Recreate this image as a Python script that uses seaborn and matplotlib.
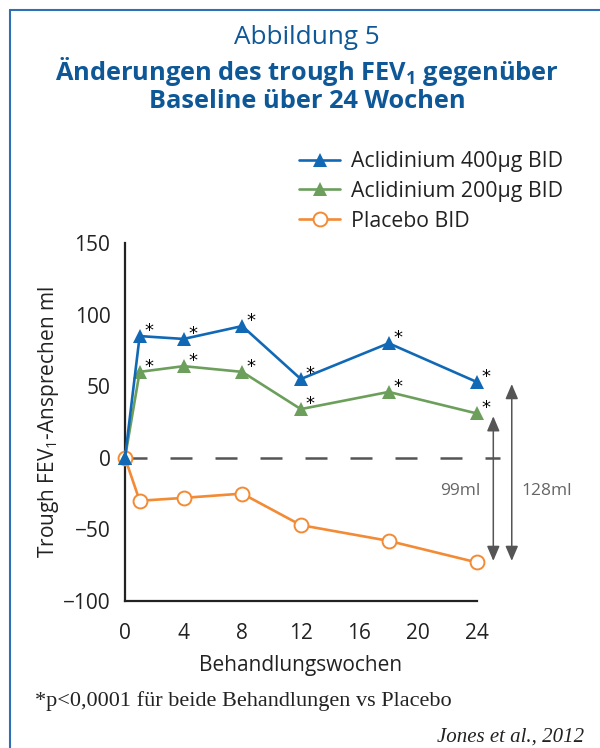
import numpy as np
import pandas as pd
import matplotlib
matplotlib.use("Agg")
import matplotlib.pyplot as plt
from matplotlib.lines import Line2D
import seaborn as sns

# ---------------- data ----------------
weeks = [0, 1, 4, 8, 12, 18, 24]
acl400 = [0, 85, 83, 92, 55, 80, 53]
acl200 = [0, 60, 64, 60, 34, 46, 31]
placebo = [0, -30, -28, -25, -47, -58, -73]
series_names = ["Aclidinium 400µg BID", "Aclidinium 200µg BID", "Placebo BID"]
star_weeks = [1, 4, 8, 12, 18, 24]
diff_labels = ["99ml", "128ml"]
xticks = [0, 4, 8, 12, 16, 20, 24]
yticks = [-100, -50, 0, 50, 100, 150]

c400 = "#1169b6"
c200 = "#6c9f5c"
cpl = "#f38a34"
title_c = "#0f5897"
grey = "#555555"
txt = "#222222"

sns.set_theme(style="white")
plt.rcParams["font.family"] = ["Open Sans", "DejaVu Sans"]
plt.rcParams["mathtext.fontset"] = "custom"
plt.rcParams["mathtext.rm"] = "Open Sans"
plt.rcParams["mathtext.bf"] = "Open Sans:bold"

W, H = 600, 748
fig = plt.figure(figsize=(6.0, 7.48), dpi=100)

# axes geometry (pixels)
x0_px, px_per_week = 125, 14.65
xmax = 30
ax_left = x0_px / W
ax_w = xmax * px_per_week / W
ax_bottom = (H - 601) / H
ax_h = (601 - 243) / H
ax = fig.add_axes([ax_left, ax_bottom, ax_w, ax_h])

df = pd.DataFrame({
    "week": weeks * 3,
    "value": acl400 + acl200 + placebo,
    "group": [series_names[0]] * len(weeks) + [series_names[1]] * len(weeks) + [series_names[2]] * len(weeks),
})

# zero reference dashed line
ax.plot([0, 25.6], [0, 0], color=grey, lw=1.8, linestyle=(0, (8.8, 9.2)), zorder=1, clip_on=False)

sns.lineplot(data=df[df.group == series_names[2]], x="week", y="value", ax=ax,
             color=cpl, lw=1.9, marker="o", markersize=10, markerfacecolor="white",
             markeredgecolor=cpl, markeredgewidth=1.4, clip_on=False, zorder=3, legend=False)
sns.lineplot(data=df[df.group == series_names[1]], x="week", y="value", ax=ax,
             color=c200, lw=1.9, marker="^", markersize=10.5, markeredgewidth=0,
             clip_on=False, zorder=4, legend=False)
sns.lineplot(data=df[df.group == series_names[0]], x="week", y="value", ax=ax,
             color=c400, lw=1.9, marker="^", markersize=10.5, markeredgewidth=0,
             clip_on=False, zorder=5, legend=False)

# asterisks
for vals in (acl400, acl200):
    for w, v in zip(weeks, vals):
        if w in star_weeks:
            ax.annotate("*", (w, v), xytext=(6.5, 0), textcoords="offset points",
                        ha="center", va="baseline", fontsize=13, color="black",
                        family="DejaVu Sans", zorder=6)

# difference arrows
arrow_x = [25.14, 26.4]
arrow_tops = [acl200[-1] - 2, acl400[-1] - 1.5]
for xa, top, lab, side in zip(arrow_x, arrow_tops, diff_labels, ["left", "right"]):
    ax.annotate("", xy=(xa, top), xytext=(xa, placebo[-1] + 1),
                arrowprops=dict(arrowstyle="<|-|>,head_length=0.75,head_width=0.32",
                                mutation_scale=12, color=grey, lw=1.1,
                                shrinkA=0, shrinkB=0),
                annotation_clip=False)
    if side == "left":
        ax.text(xa - 0.9, -23, lab, ha="right", va="center", fontsize=12.5, color="#666666")
    else:
        ax.text(xa + 0.65, -23, lab, ha="left", va="center", fontsize=12.5, color="#666666")

ax.set_xlim(0, xmax)
ax.set_ylim(-100, 150)
ax.set_xticks(xticks)
ax.set_yticks(yticks)
ax.set_yticklabels([f"{t}".replace("-", "\u2212") for t in yticks])
ax.spines["top"].set_visible(False)
ax.spines["right"].set_visible(False)
ax.spines["bottom"].set_bounds(0, 24)
for s in ("left", "bottom"):
    ax.spines[s].set_linewidth(1.6)
    ax.spines[s].set_color(txt)
ax.tick_params(axis="both", direction="out", length=6.5, width=1.6, color=txt,
               labelsize=15, labelcolor=txt)
ax.tick_params(axis="x", pad=9.5)
ax.tick_params(axis="y", pad=4)
ax.set_xlabel("Behandlungswochen", fontsize=15, color=txt)
ax.xaxis.set_label_coords(12 / xmax, -0.15)
ax.set_ylabel("Trough FEV$_1$-Ansprechen ml", fontsize=15, color=txt, labelpad=1)
ax.patch.set_alpha(0)

# legend
handles = [
    Line2D([], [], color=c400, lw=1.9, marker="^", markersize=10.5, markeredgewidth=0),
    Line2D([], [], color=c200, lw=1.9, marker="^", markersize=10.5, markeredgewidth=0),
    Line2D([], [], color=cpl, lw=1.9, marker="o", markersize=10, markerfacecolor="white",
           markeredgecolor=cpl, markeredgewidth=1.4),
]
fig.legend(handles, series_names, loc="upper left", bbox_to_anchor=(299 / W, 1 - 151 / H),
           frameon=False, fontsize=15.3, handlelength=1.95, handletextpad=0.5,
           labelspacing=0.42, borderaxespad=0, borderpad=0, labelcolor=txt)

# titles
fig.text(307 / W, 1 - 38 / H, "Abbildung 5", ha="center", va="center", fontsize=18.8, color=title_c)
fig.text(307 / W, 1 - 71 / H, "Änderungen des trough FEV$_\\mathbf{1}$ gegenüber", ha="center",
         va="center", fontsize=18.3, color=title_c, fontweight="bold")
fig.text(307 / W, 1 - 101 / H, "Baseline über 24 Wochen", ha="center", va="center",
         fontsize=18.3, color=title_c, fontweight="bold")

# footnotes
fig.text(35 / W, 1 - 701 / H, "*p<0,0001 für beide Behandlungen vs Placebo", ha="left",
         va="center", fontsize=16, family="Liberation Serif", color=txt)
fig.text(584 / W, 1 - 737 / H, "Jones et al., 2012", ha="right", va="center", fontsize=15,
         family="Liberation Serif", style="italic", color=txt)

# frame (top and left)
fig.add_artist(Line2D([10 / W, 10 / W], [0, 1 - 10 / H], transform=fig.transFigure,
                      color="#2f6fb3", lw=1.5))
fig.add_artist(Line2D([10 / W, 1], [1 - 10 / H, 1 - 10 / H], transform=fig.transFigure,
                      color="#2f6fb3", lw=1.5))

fig.savefig("out.png", dpi=100)
